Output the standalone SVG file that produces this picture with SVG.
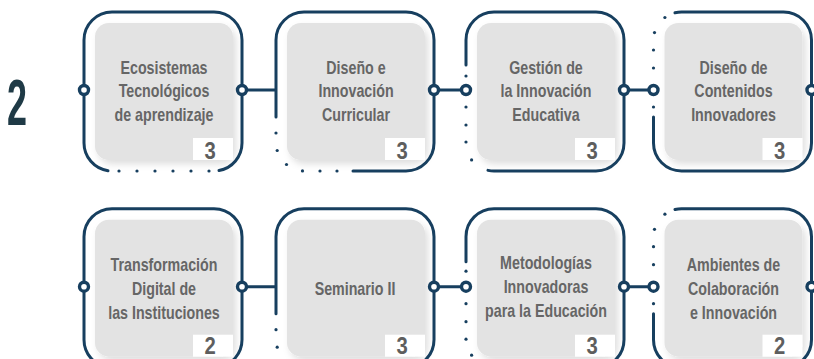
<svg xmlns="http://www.w3.org/2000/svg" width="814" height="359" viewBox="0 0 814 359">
<defs>
<filter id="sh" x="-20%" y="-20%" width="150%" height="150%">
<feDropShadow dx="3" dy="4" stdDeviation="3.5" flood-color="#000" flood-opacity="0.13"/>
</filter>
</defs>
<style>
.frame{fill:none;stroke:#173f5f;stroke-width:3;stroke-linecap:round}
.conn{fill:none;stroke:#173f5f;stroke-width:3}
.dot{fill:#173f5f}
.ring{fill:#fff;stroke:#173f5f;stroke-width:3.4}
.card{fill:#e3e3e3;filter:url(#sh)}
.tag{fill:#fff}
.lbl{font-family:"Liberation Sans",Arial,sans-serif;font-weight:bold;font-size:19px;fill:#666;text-anchor:middle}
.num{font-size:23px;fill:#5e5e5e}
.big{font-family:"Liberation Sans",Arial,sans-serif;font-weight:bold;font-size:65px;fill:#1f3a46;text-anchor:middle}
</style>
<rect width="814" height="359" fill="#fff"/>
<text class="big" x="17" y="125" textLength="20" lengthAdjust="spacingAndGlyphs">2</text>
<g id="connectors">
<path class="conn" d="M242 90H276M434 90H466M624 90H653.5"/>
<path class="conn" transform="translate(0,196.7)" d="M242 90H276M434 90H466M624 90H653.5"/>
</g>
<g id="n1">
<rect class="card" x="95" y="23" width="138" height="137" rx="14"/>
<rect class="tag" x="193" y="138" width="40" height="22"/>
<g transform="translate(164,0) scale(0.75,1)">
<text class="lbl" x="0" y="74">Ecosistemas</text>
<text class="lbl" x="0" y="97.5">Tecnológicos</text>
<text class="lbl" x="0" y="121">de aprendizaje</text>
</g>
<text class="lbl num" transform="translate(210,159) scale(0.88,1)">3</text>
<path class="frame" d="M219 170.5A28 28 0 0 0 242 143V40A28 28 0 0 0 214 12H112A28 28 0 0 0 84 40V143A28 28 0 0 0 108 170.7"/>
<g class="dot"><circle cx="119" cy="171" r="1.6"/><circle cx="137" cy="171" r="1.6"/><circle cx="155" cy="171" r="1.6"/><circle cx="173" cy="171" r="1.6"/><circle cx="191" cy="171" r="1.6"/><circle cx="209" cy="171" r="1.6"/></g>
<circle class="ring" cx="84" cy="90" r="4.5"/><circle class="ring" cx="242" cy="90" r="4.5"/>
</g>
<g id="n2">
<rect class="card" x="287" y="23" width="138" height="137" rx="14"/>
<rect class="tag" x="385" y="138" width="40" height="22"/>
<g transform="translate(356,0) scale(0.75,1)">
<text class="lbl" x="0" y="74">Diseño e</text>
<text class="lbl" x="0" y="97.5">Innovación</text>
<text class="lbl" x="0" y="121">Curricular</text>
</g>
<text class="lbl num" transform="translate(402,159) scale(0.88,1)">3</text>
<path class="frame" d="M276 117V40A28 28 0 0 1 304 12H406A28 28 0 0 1 434 40V143A28 28 0 0 1 406 171H353"/>
<g class="dot"><circle cx="276" cy="133" r="1.6"/><circle cx="277.2" cy="150.5" r="1.6"/><circle cx="286.5" cy="164.5" r="1.6"/><circle cx="302.5" cy="170.9" r="1.6"/><circle cx="320" cy="171" r="1.6"/><circle cx="337" cy="171" r="1.6"/></g>
<circle class="ring" cx="434" cy="90" r="4.5"/>
</g>
<g id="n3">
<rect class="card" x="477" y="23" width="138" height="137" rx="14"/>
<rect class="tag" x="575" y="138" width="40" height="22"/>
<g transform="translate(546,0) scale(0.75,1)">
<text class="lbl" x="0" y="74">Gestión de</text>
<text class="lbl" x="0" y="97.5">la Innovación</text>
<text class="lbl" x="0" y="121">Educativa</text>
</g>
<text class="lbl num" transform="translate(592,159) scale(0.88,1)">3</text>
<path class="frame" d="M466 65V40A28 28 0 0 1 494 12H596A28 28 0 0 1 624 40V143A28 28 0 0 1 596 171H494A28 28 0 0 1 488 170.35"/>
<g class="dot"><circle cx="466" cy="76" r="1.6"/><circle cx="466" cy="107" r="1.6"/><circle cx="466" cy="125" r="1.6"/><circle cx="466" cy="142" r="1.6"/><circle cx="471.6" cy="159.9" r="1.6"/></g>
<circle class="ring" cx="466" cy="90" r="4.5"/><circle class="ring" cx="624" cy="90" r="4.5"/>
</g>
<g id="n4">
<rect class="card" x="664.5" y="23" width="138" height="137" rx="14"/>
<rect class="tag" x="762.5" y="138" width="40" height="22"/>
<g transform="translate(733.5,0) scale(0.75,1)">
<text class="lbl" x="0" y="74">Diseño de</text>
<text class="lbl" x="0" y="97.5">Contenidos</text>
<text class="lbl" x="0" y="121">Innovadores</text>
</g>
<text class="lbl num" transform="translate(779.5,159) scale(0.88,1)">3</text>
<path class="frame" d="M675 12.8A28 28 0 0 1 681.5 12H783.5A28 28 0 0 1 811.5 40V143A28 28 0 0 1 783.5 171H681.5A28 28 0 0 1 653.5 143V117"/>
<g class="dot"><circle cx="664.9" cy="17.5" r="1.6"/><circle cx="654.5" cy="32.6" r="1.6"/><circle cx="653.5" cy="50" r="1.6"/><circle cx="653.5" cy="68" r="1.6"/><circle cx="653.5" cy="107" r="1.6"/></g>
<circle class="ring" cx="653.5" cy="90" r="4.5"/><circle class="ring" cx="811.5" cy="90" r="4.5"/>
</g>
<g id="n5" transform="translate(0,196.7)">
<rect class="card" x="95" y="23" width="138" height="137" rx="14"/>
<rect class="tag" x="193" y="138" width="40" height="22"/>
<g transform="translate(164,0) scale(0.75,1)">
<text class="lbl" x="0" y="74">Transformación</text>
<text class="lbl" x="0" y="98">Digital de</text>
<text class="lbl" x="0" y="122">las Instituciones</text>
</g>
<text class="lbl num" transform="translate(210,157.3) scale(0.88,1)">2</text>
<path class="frame" d="M219 170.5A28 28 0 0 0 242 143V40A28 28 0 0 0 214 12H112A28 28 0 0 0 84 40V143A28 28 0 0 0 108 170.7"/>
<g class="dot"><circle cx="119" cy="171" r="1.6"/><circle cx="137" cy="171" r="1.6"/><circle cx="155" cy="171" r="1.6"/><circle cx="173" cy="171" r="1.6"/><circle cx="191" cy="171" r="1.6"/><circle cx="209" cy="171" r="1.6"/></g>
<circle class="ring" cx="84" cy="90" r="4.5"/><circle class="ring" cx="242" cy="90" r="4.5"/>
</g>
<g id="n6" transform="translate(0,196.7)">
<rect class="card" x="287" y="23" width="138" height="137" rx="14"/>
<rect class="tag" x="385" y="138" width="40" height="22"/>
<g transform="translate(355,0) scale(0.75,1)">
<text class="lbl" x="0" y="98">Seminario II</text>
</g>
<text class="lbl num" transform="translate(402,157.3) scale(0.88,1)">3</text>
<path class="frame" d="M276 117V40A28 28 0 0 1 304 12H406A28 28 0 0 1 434 40V143A28 28 0 0 1 406 171H353"/>
<g class="dot"><circle cx="276" cy="133" r="1.6"/><circle cx="277.2" cy="150.5" r="1.6"/><circle cx="286.5" cy="164.5" r="1.6"/><circle cx="302.5" cy="170.9" r="1.6"/><circle cx="320" cy="171" r="1.6"/><circle cx="337" cy="171" r="1.6"/></g>
<circle class="ring" cx="434" cy="90" r="4.5"/>
</g>
<g id="n7" transform="translate(0,196.7)">
<rect class="card" x="477" y="23" width="138" height="137" rx="14"/>
<rect class="tag" x="575" y="138" width="40" height="22"/>
<g transform="translate(546,0) scale(0.75,1)">
<text class="lbl" x="0" y="72">Metodologías</text>
<text class="lbl" x="0" y="96">Innovadoras</text>
<text class="lbl" x="0" y="120">para la Educación</text>
</g>
<text class="lbl num" transform="translate(592,157.3) scale(0.88,1)">3</text>
<path class="frame" d="M466 65V40A28 28 0 0 1 494 12H596A28 28 0 0 1 624 40V143A28 28 0 0 1 596 171H494A28 28 0 0 1 488 170.35"/>
<g class="dot"><circle cx="466" cy="74.5" r="1.6"/><circle cx="466" cy="107" r="1.6"/><circle cx="466" cy="125" r="1.6"/><circle cx="466" cy="142.5" r="1.6"/><circle cx="471.6" cy="158.5" r="1.6"/></g>
<circle class="ring" cx="466" cy="90" r="4.5"/><circle class="ring" cx="624" cy="90" r="4.5"/>
</g>
<g id="n8" transform="translate(0,196.7)">
<rect class="card" x="664.5" y="23" width="138" height="137" rx="14"/>
<rect class="tag" x="762.5" y="138" width="40" height="22"/>
<g transform="translate(733.5,0) scale(0.75,1)">
<text class="lbl" x="0" y="74">Ambientes de</text>
<text class="lbl" x="0" y="98">Colaboración</text>
<text class="lbl" x="0" y="122">e Innovación</text>
</g>
<text class="lbl num" transform="translate(779.5,157.3) scale(0.88,1)">2</text>
<path class="frame" d="M675 12.8A28 28 0 0 1 681.5 12H783.5A28 28 0 0 1 811.5 40V143A28 28 0 0 1 783.5 171H681.5A28 28 0 0 1 653.5 143V117"/>
<g class="dot"><circle cx="664.9" cy="17.5" r="1.6"/><circle cx="654.5" cy="32.6" r="1.6"/><circle cx="653.5" cy="50" r="1.6"/><circle cx="653.5" cy="68" r="1.6"/><circle cx="653.5" cy="107" r="1.6"/></g>
<circle class="ring" cx="653.5" cy="90" r="4.5"/><circle class="ring" cx="811.5" cy="90" r="4.5"/>
</g>
</svg>
